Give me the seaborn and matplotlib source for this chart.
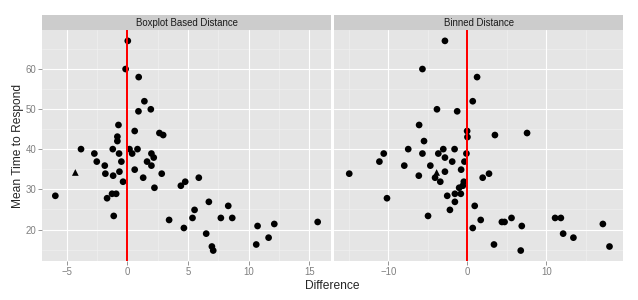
import matplotlib
matplotlib.use("Agg")
import matplotlib.pyplot as plt
import numpy as np
import pandas as pd
import seaborn as sns

# Boxplot based distance panel
box_diff = [0.03, -0.15, 0.93, 1.4, 0.91, 1.93, -0.74, 0.6, -0.83, -0.83, 2.64, 2.95,
            -3.83, -1.21, 0.17, 0.83, -2.73, -0.69, 0.39, 1.98, 2.17,
            -2.53, -0.5, 1.62, -1.87, 1.98,
            -1.82, -0.66, 0.6, -1.18, 1.3, 2.83,
            -0.36, 4.77, 4.41, 5.89, 2.23,
            -5.95, -1.27, -0.93, -1.68,
            6.72, 5.54, 8.32, -1.13,
            3.44, 5.37, 7.71, 8.65,
            4.66, 10.74, 12.12, 15.7,
            6.5, 11.65, 10.63, 6.97, 7.08]
box_time = [66.9, 59.9, 57.9, 51.9, 49.4, 49.9, 46.0, 44.5, 43.1, 42.0, 44.0, 43.5,
            40.0, 40.0, 40.0, 40.0, 38.9, 38.9, 38.9, 38.9, 37.9,
            36.9, 36.9, 36.9, 35.9, 35.9,
            33.9, 34.4, 34.9, 33.4, 32.9, 33.9,
            31.9, 31.9, 30.9, 32.9, 30.4,
            28.4, 28.9, 28.9, 27.8,
            26.9, 24.9, 25.9, 23.4,
            22.4, 22.9, 22.9, 22.9,
            20.4, 20.9, 21.4, 21.9,
            19.0, 18.0, 16.3, 15.8, 14.8]

# Binned distance panel
bin_diff = [-2.85, -5.7, 1.22, 0.67, -3.86, -1.3, -6.12, -0.04, 0.0, 3.48, 7.55, -5.5,
            -7.5, -3.06, -1.63, -10.6, -5.7, -3.69, -0.13, -2.85,
            -11.15, -1.93, -0.38, -8.0, -4.7,
            -14.97, -6.16, -2.85, -0.8, -4.1, 1.93, 2.73,
            -3.44, -0.46, -0.59, -1.05,
            -2.56, -1.59, -0.84, -10.19,
            -1.59, 0.92, -2.22, -4.99,
            1.68, 4.36, 4.7, 5.58, 11.1, 11.83, 17.15,
            0.67, 6.88, 12.12, 13.42, 3.36, 17.99, 6.75]
bin_time = [66.9, 59.9, 57.9, 51.9, 49.9, 49.4, 46.0, 44.5, 43.0, 43.5, 44.0, 42.0,
            40.0, 40.0, 40.0, 38.9, 38.9, 38.9, 38.9, 37.9,
            36.9, 36.9, 36.9, 35.9, 35.9,
            33.9, 33.4, 34.4, 34.9, 32.9, 32.9, 33.9,
            31.9, 31.9, 30.9, 30.4,
            28.4, 28.9, 28.9, 27.8,
            26.9, 25.9, 24.9, 23.4,
            22.4, 21.9, 21.9, 22.9, 22.9, 22.9, 21.4,
            20.4, 20.9, 19.0, 18.0, 16.3, 15.8, 14.8]

# the one flagged observation (triangle)
flag_diff = {"Boxplot Based Distance": -4.3, "Binned Distance": -3.9}
flag_time = 34.2

panels = ["Boxplot Based Distance", "Binned Distance"]

rows = []
for d, t in zip(box_diff, box_time):
    rows.append((panels[0], d, t, "normal"))
for d, t in zip(bin_diff, bin_time):
    rows.append((panels[1], d, t, "normal"))
for p in panels:
    rows.append((p, flag_diff[p], flag_time, "flag"))
df = pd.DataFrame(rows, columns=["method", "diff", "time", "kind"])

sns.set_style("darkgrid", {"axes.facecolor": "#E5E5E5", "grid.color": "white"})
plt.rcParams["font.family"] = ["Liberation Sans", "DejaVu Sans"]

W, H = 638, 300
fig = plt.figure(figsize=(W / 72, H / 72), dpi=72)

xlims = [(-7.05, 16.8), (-16.9, 19.7)]
major = [[-5, 0, 5, 10, 15], [-10, 0, 10]]
minor = [np.arange(-7.5, 17.6, 5), np.arange(-15, 20, 10)]
lefts = [42, 334]
pw = 289
bottom, top = 261, 30

for i, p in enumerate(panels):
    ax = fig.add_axes([lefts[i] / W, 1 - bottom / H, pw / W, (bottom - top) / H])
    sub = df[df["method"] == p]
    ax.set_axisbelow(True)
    for v in minor[i]:
        ax.axvline(v, color="#F2F2F2", lw=0.6, zorder=0)
    for v in range(15, 70, 10):
        ax.axhline(v, color="#F2F2F2", lw=0.6, zorder=0)
    sns.scatterplot(data=sub, x="diff", y="time", style="kind",
                    markers={"normal": "o", "flag": "^"}, color="black",
                    s=45, edgecolor="none", legend=False, ax=ax, zorder=3)
    ax.axvline(0, color="#FF0000", lw=1.5, zorder=5, antialiased=False)
    ax.set_xlim(*xlims[i])
    ax.set_ylim(12.2, 69.6)
    ax.set_xticks(major[i])
    ax.set_xticklabels([str(v).replace("-", "\u2212") for v in major[i]])
    ax.set_yticks([20, 30, 40, 50, 60])
    ax.grid(True, color="white", lw=1.1)
    ax.tick_params(colors="#7F7F7F", labelcolor="#7F7F7F", labelsize=9.6,
                   length=4, width=0.8, direction="out", pad=2)
    ax.tick_params(axis="both", which="major", bottom=True, left=(i == 0))
    ax.set_xlabel("")
    ax.set_ylabel("")
    if i == 1:
        ax.set_yticklabels([])
    for s in ax.spines.values():
        s.set_visible(False)
    # strip
    sax = fig.add_axes([lefts[i] / W, 1 - top / H, pw / W, 15 / H])
    sax.set_facecolor("#CCCCCC")
    sax.set_xticks([])
    sax.set_yticks([])
    for s in sax.spines.values():
        s.set_visible(False)
    sax.text(0.5, 0.5, p, ha="center", va="center", fontsize=9.6, color="#1A1A1A",
             transform=sax.transAxes)

fig.text((42 + 623) / 2 / W, 1 - 286 / H, "Difference", ha="center", va="center", fontsize=12)
fig.text(18 / W, 1 - 146 / H, "Mean Time to Respond", ha="center", va="center",
         rotation=90, fontsize=12)

fig.savefig("out.png", dpi=72)
